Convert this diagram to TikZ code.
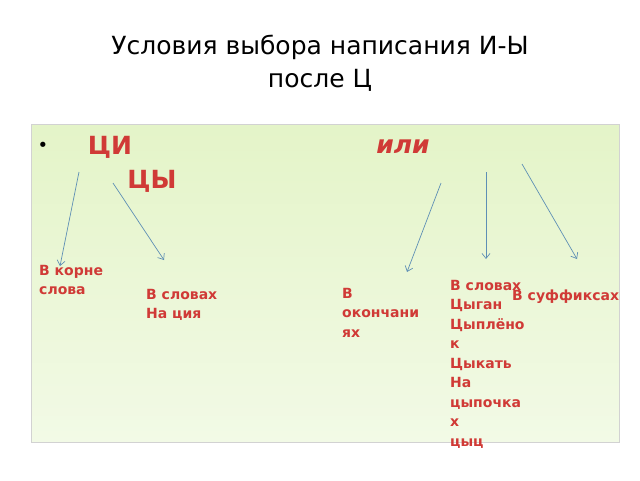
\documentclass[tikz,border=0pt]{standalone}
\usepackage{fontspec}
\setmainfont{DejaVu Sans}
\usetikzlibrary{arrows.meta}
\definecolor{rd}{HTML}{D03A36}
\definecolor{ar}{HTML}{5E8FB5}
\definecolor{gtop}{HTML}{E4F4C8}
\definecolor{gbot}{HTML}{F2FAE6}
\begin{document}
\begin{tikzpicture}[x=1pt,y=-1pt,
  lbl/.style={anchor=north west,inner sep=0,align=left,text=rd,font=\fontsize{14}{19.5}\selectfont\bfseries},
  big/.style={inner sep=0,text=rd,font=\fontsize{25}{28}\selectfont\bfseries},
  arr/.style={-{Straight Barb[length=5pt,width=8pt]},draw=ar,line width=0.7pt}]
\useasboundingbox (0,0) rectangle (640,480);
\fill[white] (0,0) rectangle (640,480);
\shade[top color=gtop,bottom color=gbot,draw=gray!35] (31,124) rectangle (619,442);
\node[inner sep=0,font=\fontsize{25}{33}\selectfont,align=center] (title) at (320,63) {Условия выбора написания И-Ы\\после Ц};
\node[inner sep=0,font=\fontsize{18}{18}\selectfont] (bul) at (43,147) {•};
\node[big] (ci) at (110,147) {ЦИ};
\node[big] (cy) at (152,181) {ЦЫ};
\node[big,font=\fontsize{25}{28}\selectfont\bfseries\itshape] (ili) at (403,147) {или};
\coordinate (a1) at (79,172); \coordinate (b1) at (60,266);
\coordinate (a2) at (113,183); \coordinate (b2) at (164,260);
\coordinate (a3) at (441,183); \coordinate (b3) at (407,272);
\coordinate (a4) at (486,172); \coordinate (b4) at (486,259);
\coordinate (a5) at (522,164); \coordinate (b5) at (577,259);
\foreach \i in {1,...,5} \draw[arr] (a\i) -- (b\i);
\node[lbl] (t1) at (39,265) {В корне\\слова};
\node[lbl] (t2) at (146,289) {В словах\\На ция};
\node[lbl] (t3) at (342,288) {В\\окончани\\ях};
\node[lbl] (t4) at (450,280) {В словах\\Цыган\\Цыплёно\\к\\Цыкать\\На\\цыпочка\\х\\цыц};
\node[lbl] (t5) at (512,290) {В суффиксах};
\end{tikzpicture}
\end{document}
